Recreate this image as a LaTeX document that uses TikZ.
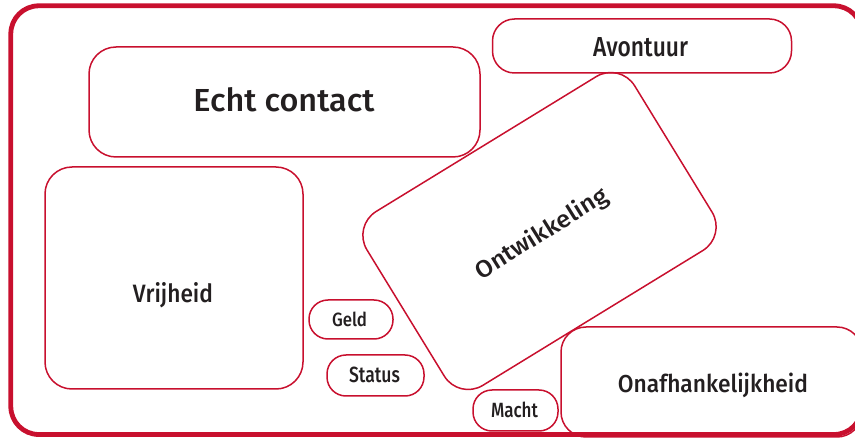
\documentclass[tikz,border=0pt]{standalone}
\usepackage{fontspec}
\setmainfont{Fira Sans}[UprightFont={* Medium}]
\usepackage{graphicx}
\definecolor{fr}{RGB}{200,16,46}
\definecolor{tx}{RGB}{35,31,32}
\tikzset{
  card/.style={draw=fr, line width=1.5pt, rectangle, inner sep=0pt, rounded corners=#1},
  card/.default=26pt,
  lbl/.style={text=tx, inner sep=0pt, anchor=base},
}
\newcommand{\fitlbl}[3]{\resizebox{#1pt}{#2pt}{#3}}
\begin{document}
\begin{tikzpicture}[x=1pt,y=-1pt]
\useasboundingbox (0,0) rectangle (855,438);
% outer frame
\draw[fr, line width=4.8pt, rounded corners=28pt] (10.8,5.8) rectangle (862,434.5);
% cards
\node[card=27pt, minimum width=391pt, minimum height=110pt] (echt) at (284.5,102) {};
\node[card=22pt, minimum width=299pt, minimum height=54pt] (avon) at (642,46) {};
\node[card=27pt, minimum width=258pt, minimum height=222pt] (vrij) at (174,278) {};
\node[card=19pt, minimum width=84pt, minimum height=39pt] (geld) at (351,319.5) {};
\node[card=19pt, minimum width=97pt, minimum height=41pt] (stat) at (375.5,375.5) {};
\node[card=19pt, minimum width=85pt, minimum height=41pt] (macht) at (515.5,410.5) {};
\node[card=25pt, minimum width=301pt, minimum height=110pt] (onaf) at (711.5,382) {};
\node[card=28pt, minimum width=314pt, minimum height=204pt, rotate=31.5] (ontw) at (539.5,231) {};
% labels
\node[lbl] (techt) at (284,112) {\fitlbl{181}{24}{Echt contact}};
\node[lbl] (tavon) at (640.5,57) {\fitlbl{95}{19}{Avontuur}};
\node[lbl] (tvrij) at (173,303) {\fitlbl{80}{20}{Vrijheid}};
\node[lbl] (tgeld) at (349.5,327) {\fitlbl{35}{14.5}{Geld}};
\node[lbl] (tstat) at (374.5,383) {\fitlbl{51}{15.5}{Status}};
\node[lbl] (tmacht) at (514.5,418) {\fitlbl{47}{15.5}{Macht}};
\node[lbl] (tonaf) at (713,393) {\fitlbl{190}{19.5}{Onafhankelijkheid}};
\node[lbl, rotate=32] (tontw) at (545.5,240) {\fitlbl{151}{19}{Ontwikkeling}};
\end{tikzpicture}
\end{document}
